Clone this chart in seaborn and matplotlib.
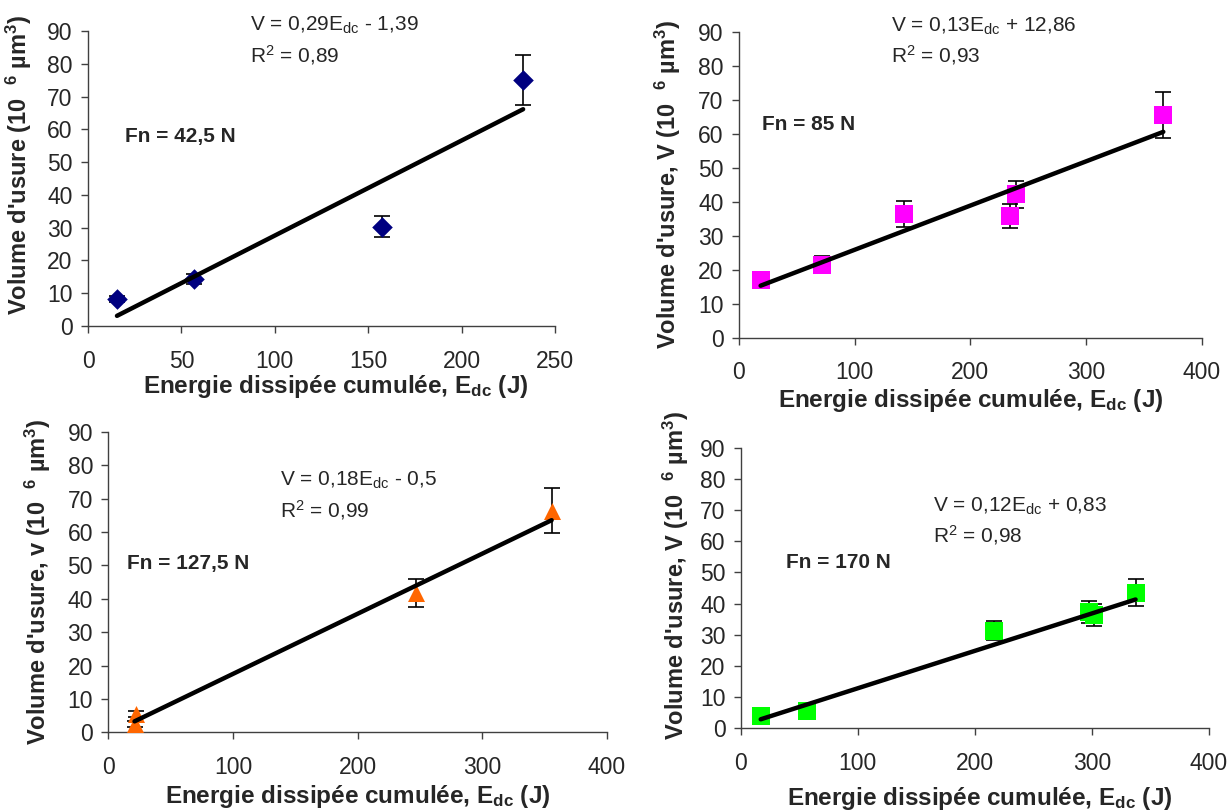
import numpy as np
import pandas as pd
import matplotlib
matplotlib.use('Agg')
import matplotlib.pyplot as plt
import seaborn as sns

# --- data ---
x_42 = [15.5, 56.7, 157.2, 232.9]
y_42 = [8.2, 14.3, 30.3, 75.0]
e_42 = [1.0, 1.6, 3.2, 7.6]

x_85 = [18.7, 72.0, 142.7, 234.2, 239.4, 366.8]
y_85 = [17.0, 21.4, 36.3, 35.8, 42.2, 65.5]
e_85 = [1.7, 2.5, 3.8, 3.6, 4.0, 6.7]

x_127 = [21.0, 22.0, 246.5, 355.6]
y_127 = [2.5, 5.5, 41.8, 66.3]
e_127 = [1.0, 1.0, 4.2, 6.7]

x_170 = [17.1, 56.4, 216.3, 297.7, 301.7, 337.3]
y_170 = [3.9, 5.6, 31.3, 37.3, 36.3, 43.5]
e_170 = [0.6, 1.0, 3.0, 3.6, 3.6, 4.4]

slopes = [0.29, 0.13, 0.18, 0.12]
intercepts = [-1.39, 12.86, -0.5, 0.83]
equations = ['V = 0,29E$_{dc}$ - 1,39', 'V = 0,13E$_{dc}$ + 12,86',
             'V = 0,18E$_{dc}$ - 0,5', 'V = 0,12E$_{dc}$ + 0,83']
r2_labels = ['R$^{2}$ = 0,89', 'R$^{2}$ = 0,93', 'R$^{2}$ = 0,99', 'R$^{2}$ = 0,98']
force_labels = ['Fn = 42,5 N', 'Fn = 85 N', 'Fn = 127,5 N', 'Fn = 170 N']
ylabels = ["Volume d'usure (10  $^{6}$ µm$^{3}$)",
           "Volume d'usure, V (10  $^{6}$ µm$^{3}$)",
           "Volume d'usure, v (10  $^{6}$ µm$^{3}$)",
           "Volume d'usure, V (10  $^{6}$ µm$^{3}$)"]
xlabel = 'Energie dissipée cumulée, E$_{dc}$ (J)'

sns.set_style('ticks')
plt.rcParams['font.family'] = ['Liberation Sans', 'DejaVu Sans']
plt.rcParams['mathtext.default'] = 'regular'

fig = plt.figure(figsize=(12.31, 8.11), dpi=100)

rects = [
    [0.0715, 0.598, 0.3794, 0.3637],
    [0.6003, 0.5836, 0.3759, 0.3773],
    [0.0880, 0.0970, 0.4051, 0.3707],
    [0.6017, 0.1020, 0.3804, 0.3460],
]
series = [(x_42, y_42, e_42), (x_85, y_85, e_85), (x_127, y_127, e_127), (x_170, y_170, e_170)]
markers = ['D', 's', '^', 's']
colors = ['#000080', '#FF00FF', '#FF6600', '#00FF00']
msizes = [110, 150, 150, 150]
xmaxs = [250, 400, 400, 400]
xsteps = [50, 100, 100, 100]
force_pos = [(19.8, 57.7), (19.6, 62.8), (15.2, 50.6), (38.4, 53.2)]
eq_pos = [(86.7, 91.8, 82.6), (131, 91.7, 83.1), (137.7, 75.5, 66.6), (164, 71.2, 62.0)]
xlabel_pos = [(0.531, -0.159), (0.5, -0.161), (0.5, -0.17), (0.511, -0.203)]
ylabel_pos = [(-0.116, 0.546), (-0.121, 0.5), (-0.111, 0.5), (-0.106, 0.544)]

for i, rect in enumerate(rects):
    ax = fig.add_axes(rect)
    xs, ys, es = series[i]
    df = pd.DataFrame({'E': xs, 'V': ys, 'err': es})
    ax.errorbar(df['E'], df['V'], yerr=df['err'], fmt='none', ecolor='black',
                elinewidth=1.2, capsize=6, capthick=1.2, zorder=2)
    sns.scatterplot(data=df, x='E', y='V', marker=markers[i], color=colors[i],
                    s=msizes[i], edgecolor=colors[i], linewidth=0, ax=ax, zorder=3)
    xf = np.array([min(xs), max(xs)])
    fit = pd.DataFrame({'E': xf, 'V': slopes[i] * xf + intercepts[i]})
    sns.lineplot(data=fit, x='E', y='V', color='black', linewidth=3.2, ax=ax, zorder=4)

    ax.set_xlim(0, xmaxs[i])
    ax.set_ylim(0, 90)
    ax.set_xticks(np.arange(0, xmaxs[i] + 1, xsteps[i]))
    ax.set_yticks(np.arange(0, 91, 10))
    ax.tick_params(labelsize=16.5, length=5, width=1, color='#404040', pad=6)
    ax.tick_params(axis='x', pad=12)
    sns.despine(ax=ax)
    for sp in ['left', 'bottom']:
        ax.spines[sp].set_color('#404040')
        ax.spines[sp].set_linewidth(1)

    ax.set_xlabel(xlabel, fontsize=17.5, fontweight='bold')
    ax.set_ylabel(ylabels[i], fontsize=17, fontweight='bold')
    ax.xaxis.set_label_coords(*xlabel_pos[i])
    ax.yaxis.set_label_coords(*ylabel_pos[i])

    fx, fy = force_pos[i]
    ax.text(fx, fy, force_labels[i], fontsize=15, fontweight='bold', va='center')
    ex, ey1, ey2 = eq_pos[i]
    ax.text(ex, ey1, equations[i], fontsize=15, va='center', clip_on=False)
    ax.text(ex, ey2, r2_labels[i], fontsize=15, va='center', clip_on=False)

fig.savefig('out.png', dpi=100)
